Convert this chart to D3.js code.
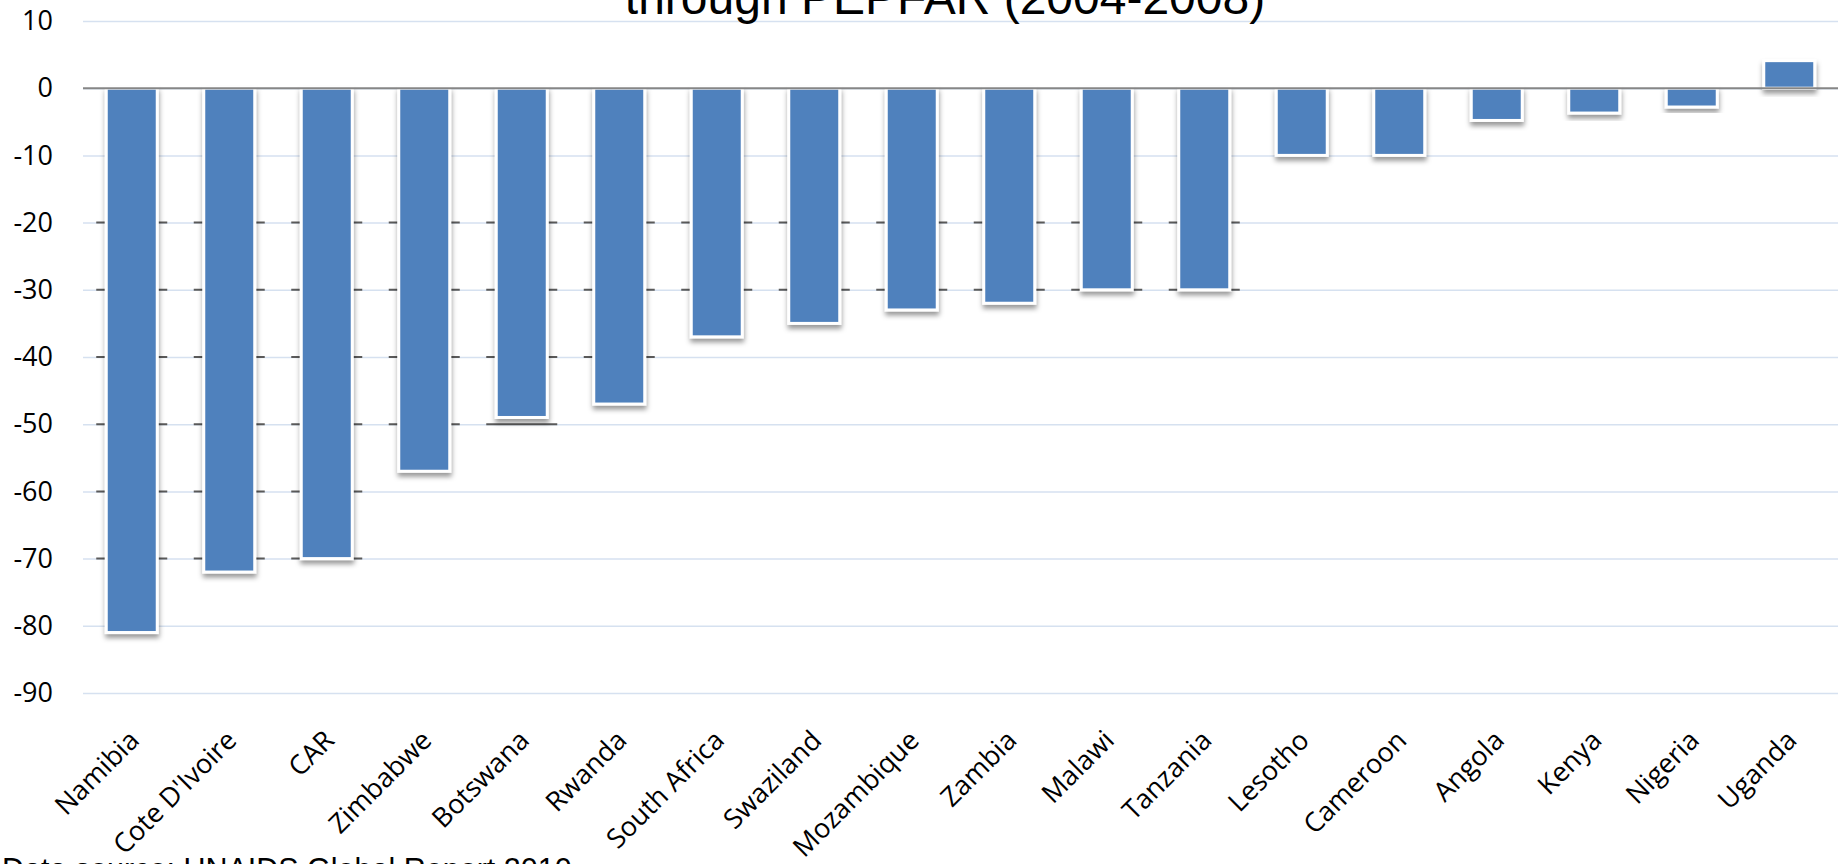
<!DOCTYPE html>
<html>
<head>
<meta charset="utf-8">
<script src="https://cdn.jsdelivr.net/npm/d3@7"></script>
<style>
  body { margin: 0; background: #fff; overflow: hidden; }
</style>
</head>
<body>
<div id="chart"></div>
<script>
'use strict';

// data
var countries = ["Namibia", "Cote D'Ivoire", "CAR", "Zimbabwe", "Botswana", "Rwanda",
                 "South Africa", "Swaziland", "Mozambique", "Zambia", "Malawi", "Tanzania",
                 "Lesotho", "Cameroon", "Angola", "Kenya", "Nigeria", "Uganda"];
var changes = [-81, -72, -70, -57, -49, -47, -37, -35, -33, -32, -30, -30,
               -10, -10, -4.8, -3.7, -2.8, 4.1];
var yTicks = [10, 0, -10, -20, -30, -40, -50, -60, -70, -80, -90];
var darkTicks = [-20, -30, -40, -50, -60, -70];
var titleLine = "through PEPFAR (2004-2008)";
var sourceLine = "Data source: UNAIDS Global Report 2010";

var chartW = 1845, chartH = 864;
var plotLeft = 83, plotRight = 1838, plotTop = 21, plotBottom = 693;

var svg = d3.select("#chart")
    .append("svg")
    .attr("width", chartW)
    .attr("height", chartH);

var defs = svg.append("defs");
var shadow = defs.append("filter").attr("id", "shadow")
    .attr("x", "-30%").attr("y", "-30%").attr("width", "160%").attr("height", "160%");
shadow.append("feDropShadow")
    .attr("dx", 0.5).attr("dy", 4).attr("stdDeviation", 2.5)
    .attr("flood-color", "#000").attr("flood-opacity", 0.4);

var x = d3.scaleBand()
    .domain(countries)
    .range([plotLeft, plotRight])
    .paddingInner(0.477)
    .paddingOuter(0.2385);

var y = d3.scaleLinear()
    .domain([-90, 10])
    .range([plotBottom, plotTop]);

// gridlines + y labels (plain hyphen for the minus, like the original)
var yAxis = svg.append("g")
    .attr("transform", "translate(" + plotLeft + ",0)")
    .call(d3.axisLeft(y)
        .tickValues(yTicks)
        .tickSize(-(plotRight - plotLeft))
        .tickPadding(30)
        .tickFormat(function(d) { return String(d); }));
yAxis.select(".domain").remove();
yAxis.selectAll("line").attr("stroke", "#d6e1f0").attr("stroke-width", 1.5);
yAxis.selectAll("text")
    .attr("fill", "#000")
    .style("font-family", "'Open Sans', sans-serif")
    .style("font-size", "27px");

// dark bits of gridline beside the bars (as in the original render)
darkTicks.forEach(function(t) {
    svg.append("g").selectAll("line")
        .data(countries.filter(function(c, i) { return changes[i] <= t + 1.5; }))
        .enter()
        .append("line")
        .attr("x1", function(c) { return x(c) - 10; })
        .attr("x2", function(c) { return x(c) + x.bandwidth() + 10; })
        .attr("y1", y(t))
        .attr("y2", y(t))
        .attr("stroke", "#5a5a5a")
        .attr("stroke-width", 2);
});

// bars
svg.append("g").selectAll("rect")
    .data(countries)
    .enter()
    .append("rect")
    .attr("x", function(c) { return x(c); })
    .attr("width", x.bandwidth())
    .attr("y", function(c, i) { return y(Math.max(0, changes[i])); })
    .attr("height", function(c, i) { return Math.abs(y(changes[i]) - y(0)); })
    .attr("fill", "#4f81bd")
    .attr("stroke", "#fff")
    .attr("stroke-width", 3)
    .attr("filter", "url(#shadow)");

// zero line
svg.append("line")
    .attr("x1", plotLeft).attr("x2", plotRight)
    .attr("y1", y(0)).attr("y2", y(0))
    .attr("stroke", "#868686")
    .attr("stroke-width", 2);

// category labels
var xAxis = svg.append("g")
    .attr("transform", "translate(0," + plotBottom + ")")
    .call(d3.axisBottom(x).tickSize(0).tickPadding(0));
xAxis.select(".domain").remove();
xAxis.selectAll("text")
    .attr("fill", "#000")
    .attr("y", 0)
    .attr("dy", 0)
    .attr("text-anchor", "end")
    .attr("transform", "translate(9,49) rotate(-45)")
    .style("font-family", "'Open Sans', sans-serif")
    .style("font-size", "27px");

// title (only its last line is inside the picture)
svg.append("text")
    .attr("x", 945)
    .attr("y", 14)
    .attr("text-anchor", "middle")
    .style("font-family", "'Liberation Sans', Arial, sans-serif")
    .style("font-size", "48px")
    .text(titleLine);

svg.append("text")
    .attr("x", 2)
    .attr("y", 880)
    .style("font-family", "'Liberation Sans', Arial, sans-serif")
    .style("font-size", "30.5px")
    .text(sourceLine);
</script>
</body>
</html>
